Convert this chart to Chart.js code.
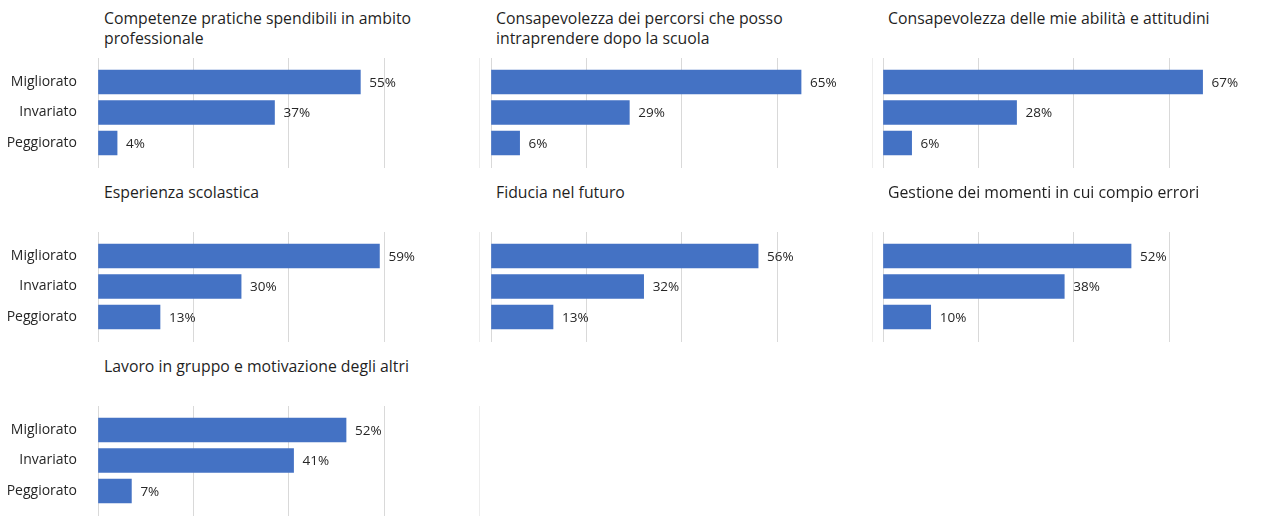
<!DOCTYPE html>
<html><head><meta charset="utf-8">
<script src="https://cdn.jsdelivr.net/npm/chart.js@4.4.1/dist/chart.umd.min.js"></script>
<style>
html,body{margin:0;padding:0;width:1261px;height:516px;overflow:hidden;background:#fff;position:relative;}
.t{position:absolute;font-family:'Open Sans',sans-serif;font-size:15.8px;line-height:20px;color:#1f1f1f;white-space:nowrap;}
canvas{position:absolute;}
</style></head><body>
<script>
// ---- data ----
const categories = ['Migliorato', 'Invariato', 'Peggiorato'];
const xTicks = [0, 20, 40, 60, 80];
const panelTitles = [
  ['Competenze pratiche spendibili in ambito', 'professionale'],
  ['Consapevolezza dei percorsi che posso', 'intraprendere dopo la scuola'],
  ['Consapevolezza delle mie abilità e attitudini'],
  ['Esperienza scolastica'],
  ['Fiducia nel futuro'],
  ['Gestione dei momenti in cui compio errori'],
  ['Lavoro in gruppo e motivazione degli altri']
];
const competenzeValues = [55, 37, 4];
const percorsiValues = [65, 29, 6];
const abilitaValues = [67, 28, 6];
const esperienzaValues = [59, 30, 13];
const fiduciaValues = [56, 32, 13];
const erroriValues = [52, 38, 10];
const gruppoValues = [52, 41, 7];
const panelValues = [competenzeValues, percorsiValues, abilitaValues, esperienzaValues, fiduciaValues, erroriValues, gruppoValues];

// ---- layout ----
const colLeft = [0, 393, 785];
const rowTop = [0, 174, 348];
const FONT = "'Open Sans', sans-serif";
const TEXT = '#262626';

const valueLabels = {
  id: 'valueLabels',
  afterDatasetsDraw(chart) {
    const ctx = chart.ctx;
    const meta = chart.getDatasetMeta(0);
    const data = chart.data.datasets[0].data;
    ctx.save();
    ctx.font = '13.5px ' + FONT;
    ctx.fillStyle = TEXT;
    ctx.textAlign = 'left';
    ctx.textBaseline = 'middle';
    meta.data.forEach((bar, i) => {
      ctx.fillText(data[i] + '%', bar.x + 9, bar.y + 1);
    });
    ctx.restore();
  }
};

panelValues.forEach((vals, idx) => {
  const col = idx % 3, row = Math.floor(idx / 3);
  const left = colLeft[col], top = rowTop[row];

  const t = document.createElement('div');
  t.className = 't';
  t.style.left = (left + (col === 0 ? 104 : 103)) + 'px';
  t.style.top = (top + 8) + 'px';
  t.innerHTML = panelTitles[idx].join('<br>');
  document.body.appendChild(t);

  const c = document.createElement('canvas');
  c.width = 482; c.height = 110;
  c.style.left = left + 'px';
  c.style.top = (top + 58) + 'px';
  document.body.appendChild(c);

  const gridColor = (ctx) => (ctx.tick && ctx.tick.value === xTicks[xTicks.length - 1]) ? '#EDEDED' : '#D9D9D9';
  const xAxisBase = {
    type: 'linear', min: xTicks[0], max: xTicks[xTicks.length - 1],
    afterBuildTicks: (s) => { s.ticks = xTicks.map(v => ({ value: v })); },
    ticks: { display: false },
    border: { display: false }
  };

  new Chart(c, {
    type: 'bar',
    data: {
      labels: categories,
      datasets: [{
        data: vals,
        backgroundColor: '#4472C4',
        borderWidth: 0,
        barThickness: 24
      }]
    },
    options: {
      indexAxis: 'y',
      responsive: false,
      animation: false,
      devicePixelRatio: 1,
      layout: { padding: { left: 0, right: 2.4, top: 0, bottom: 0 } },
      plugins: { legend: { display: false }, tooltip: { enabled: false }, title: { display: false } },
      scales: {
        x: Object.assign({}, xAxisBase, {
          position: 'bottom',
          grid: { color: gridColor, lineWidth: 1, drawTicks: true, tickLength: 9.75, drawOnChartArea: true }
        }),
        x2: Object.assign({}, xAxisBase, {
          position: 'top',
          grid: { color: gridColor, lineWidth: 1, drawTicks: true, tickLength: 8.75, drawOnChartArea: false }
        }),
        y: {
          type: 'category',
          grid: { display: false, drawTicks: false },
          border: { display: false },
          ticks: { display: col === 0, padding: 21, color: TEXT, font: { family: FONT, size: 14 } },
          afterFit: (s) => { s.width = 98; s.paddingTop = 0; s.paddingBottom = 0; }
        }
      }
    },
    plugins: [valueLabels]
  });
});
</script>
</body></html>
